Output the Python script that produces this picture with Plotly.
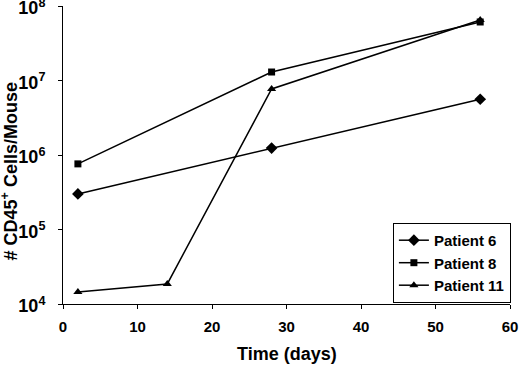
import plotly.graph_objects as go

days_p6 = [2, 28, 56]
cells_p6 = [3.0e5, 1.24e6, 5.6e6]
days_p8 = [2, 28, 56]
cells_p8 = [7.6e5, 1.3e7, 6.1e7]
days_p11 = [2, 14, 28, 56]
cells_p11 = [1.45e4, 1.86e4, 7.7e6, 6.5e7]

x_ticks = [0, 10, 20, 30, 40, 50, 60]
y_tickvals = [1e4, 1e5, 1e6, 1e7, 1e8]
y_ticktext = ["10<sup>4</sup>", "10<sup>5</sup>", "10<sup>6</sup>", "10<sup>7</sup>", "10<sup>8</sup>"]

x_title = "Time (days)"
y_title = "# CD45<sup>+</sup> Cells/Mouse"

FONT = "Liberation Sans, Arial, sans-serif"

fig = go.Figure()
series = [
    ("Patient 6", days_p6, cells_p6, "diamond", 9),
    ("Patient 8", days_p8, cells_p8, "square", 7),
    ("Patient 11", days_p11, cells_p11, "triangle-up", 8),
]
for name, xs, ys, sym, sz in series:
    fig.add_trace(go.Scatter(
        x=xs, y=ys, name=name, mode="lines+markers",
        line=dict(color="black", width=1.5),
        marker=dict(symbol=sym, size=sz, color="black"),
    ))

fig.update_layout(
    width=520, height=365,
    margin=dict(l=63, r=10, t=6, b=61),
    paper_bgcolor="white", plot_bgcolor="white",
    font=dict(family=FONT, color="black", size=15, weight="bold"),
    showlegend=True,
    legend=dict(
        x=1.002, y=0.272, xanchor="right", yanchor="top",
        bordercolor="black", borderwidth=1, bgcolor="white",
        font=dict(family=FONT, size=15, color="black", weight="bold"),
        tracegroupgap=0, itemwidth=30,
    ),
    xaxis=dict(
        range=[0, 60], tickvals=x_ticks, showgrid=False, zeroline=False,
        showline=True, linecolor="black", linewidth=1,
        ticks="outside", ticklen=4, tickcolor="black",
        tickfont=dict(family=FONT, size=15, weight="bold"),
        automargin=False, ticklabeloverflow="allow", ticklabelstandoff=5,
    ),
    yaxis=dict(
        type="log", range=[4, 8], tickvals=y_tickvals, ticktext=y_ticktext,
        showgrid=False, zeroline=False,
        showline=True, linecolor="black", linewidth=1,
        ticks="outside", ticklen=4, tickcolor="black",
        tickfont=dict(family=FONT, size=18, weight="bold"),
        automargin=False, ticklabeloverflow="allow",
        ticklabelstandoff=9, ticklabelshift=2,
    ),
    annotations=[
        dict(text=x_title, xref="paper", yref="paper", x=0.501, y=-0.168,
             xanchor="center", yanchor="middle", showarrow=False,
             font=dict(family=FONT, size=18, weight="bold", color="black")),
        dict(text=y_title, xref="paper", yref="paper", x=-0.12, y=0.446,
             xanchor="center", yanchor="middle", showarrow=False, textangle=-90,
             font=dict(family=FONT, size=18, weight="bold", color="black")),
    ],
)

fig.write_html("out.html", config={"displayModeBar": False},
               post_script="document.body.style.margin='0px';")
